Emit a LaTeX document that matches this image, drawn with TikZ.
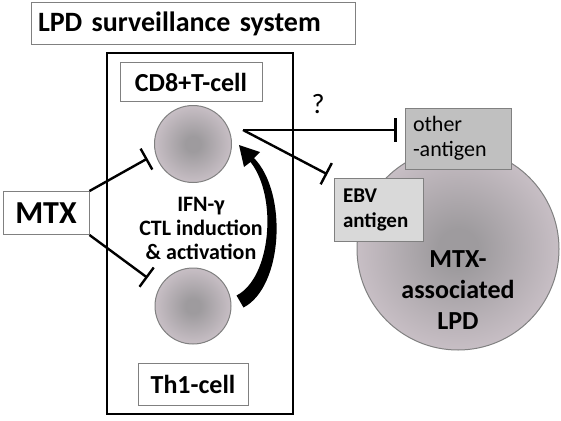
\documentclass[tikz,border=0pt]{standalone}
\usepackage{fontspec}
\setmainfont{Carlito}
\usetikzlibrary{arrows.meta}
\tikzset{>=latex}
\definecolor{CellIn}{RGB}{158,155,158}
\definecolor{CellOut}{RGB}{220,208,216}
\definecolor{BoxLine}{RGB}{128,128,128}
\definecolor{OtherFill}{RGB}{192,192,192}
\definecolor{EbvFill}{RGB}{217,217,217}
\pgfdeclareradialshading{cellball}{\pgfpoint{0bp}{0bp}}{color(0bp)=(CellIn); color(5bp)=(CellIn); color(35bp)=(CellOut); color(50bp)=(CellOut)}
\tikzset{
  labelbox/.style={draw=BoxLine, line width=1pt, fill=white, inner sep=0pt, font=\fontsize{26}{31}\selectfont\bfseries},
  cell/.style={circle, draw=BoxLine, line width=1pt, shade, shading=cellball, inner sep=0pt},
  antibox/.style={draw=BoxLine, line width=1pt, inner sep=0pt, align=left},
  inhibit/.style={line width=2.4pt, -{Bar[width=24pt]}}
}

\begin{document}
\begin{tikzpicture}[x=1pt,y=-1pt]
        \useasboundingbox (0,0) rectangle (561,420);
        \node[labelbox, minimum width=324pt, minimum height=42pt, text width=310pt, inner xsep=7pt, font=\fontsize{28}{33}\selectfont\bfseries] (title) at (193,24) {LPD surveillance system};
        \draw[line width=2.5pt] (107,53) rectangle (293,414);
        \node[labelbox, minimum width=142pt, minimum height=39pt] (cd8) at (191,82) {CD8+T-cell};
        \node[labelbox, minimum width=110pt, minimum height=42pt] (th1) at (193,384) {Th1-cell};
        \node[cell, minimum size=77pt] (top) at (193,144) {};
        \node[cell, minimum size=76pt] (bot) at (193,306) {};
        \node[labelbox, minimum width=86pt, minimum height=43pt, font=\fontsize{32}{38}\selectfont\bfseries] (mtx) at (46,213) {MTX};
        \node[align=center, font=\fontsize{22}{24}\selectfont\bfseries] (ifn) at (201,228) {IFN-γ\\CTL induction\\\& activation};
        \draw[inhibit, shorten >=9pt] (mtx.north east) -- (top.195);
        \draw[inhibit, shorten >=15pt] (mtx.south east) -- (bot.150);
        \fill (243.5,307.5) .. controls (283,287) and (288,193) .. (254,158) -- (260,152) -- (239,145) -- (244,167) -- (250.5,162) .. controls (278,197) and (271,278) .. (236.5,295.5) -- cycle;
        \node[cell, minimum size=202pt] (lpd) at (458,249) {};
        \node[align=center, font=\fontsize{26}{31}\selectfont\bfseries] (lpdtext) at (458,290) {MTX-\\associated\\LPD};
        \node[antibox, fill=OtherFill, minimum width=106pt, minimum height=61pt, text width=90pt, inner xsep=8pt, font=\fontsize{22}{25}\selectfont] (other) at (458,138.5) {other\\-antigen};
        \node[antibox, fill=EbvFill, minimum width=89pt, minimum height=63pt, text width=71pt, inner xsep=9pt, font=\fontsize{21}{25}\selectfont\bfseries] (ebv) at (378.5,209.5) {EBV\\antigen};
        \coordinate (src) at (243,130);
        \draw[inhibit, shorten >=8pt] (src) -- (src -| other.west);
        \draw[inhibit, shorten >=7pt] (src) -- (ebv.north west);
        \node[font=\fontsize{28}{32}\selectfont] (q) at (318,104) {?};
\end{tikzpicture}
\end{document}
